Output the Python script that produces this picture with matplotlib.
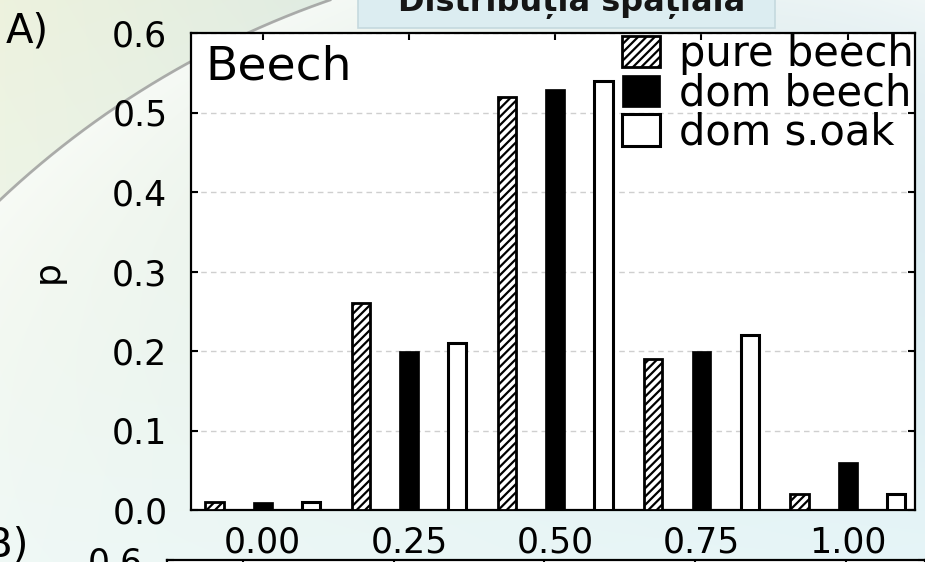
import numpy as np
import matplotlib
matplotlib.use('Agg')
import matplotlib.pyplot as plt
from matplotlib.patches import Rectangle

# ---- data ----
categories = ['0.00', '0.25', '0.50', '0.75', '1.00']
series_names = ['pure beech', 'dom beech', 'dom s.oak']
pure_beech = [0.01, 0.26, 0.52, 0.19, 0.02]
dom_beech = [0.01, 0.20, 0.53, 0.20, 0.06]
dom_soak = [0.01, 0.21, 0.54, 0.22, 0.02]
y_ticks = [0.0, 0.1, 0.2, 0.3, 0.4, 0.5, 0.6]
title_text = 'Distribuția spațială'
panel_text = 'Beech'

plt.rcParams['font.family'] = ['DejaVu Sans']
plt.rcParams['hatch.linewidth'] = 1.6

W, H = 925, 562
fig = plt.figure(figsize=(W / 100, H / 100), dpi=100)

def fx(px):
    return px / W

def fy(py):
    return 1 - py / H

# ---- background (slide) ----
bg = fig.add_axes([0, 0, 1, 1], zorder=-10)
yy, xx = np.mgrid[0:H, 0:W].astype(float)
t = xx / W
s = yy / H
c_tl = np.array([0.93, 0.95, 0.87])
c_tr = np.array([0.79, 0.88, 0.92])
c_bl = np.array([0.93, 0.97, 0.96])
c_br = np.array([0.90, 0.96, 0.97])
img = ((1 - t)[..., None] * (1 - s)[..., None] * c_tl + t[..., None] * (1 - s)[..., None] * c_tr
       + (1 - t)[..., None] * s[..., None] * c_bl + t[..., None] * s[..., None] * c_br)
p1, p2, p3 = np.array([0, 200.]), np.array([190, 62.]), np.array([330, 0.])
A = np.array([[2 * (p2 - p1)[0], 2 * (p2 - p1)[1]], [2 * (p3 - p1)[0], 2 * (p3 - p1)[1]]])
b = np.array([p2 @ p2 - p1 @ p1, p3 @ p3 - p1 @ p1])
cx, cy = np.linalg.solve(A, b)
r = np.hypot(*(p1 - np.array([cx, cy])))
d = r - np.hypot(xx - cx, yy - cy)
w = np.clip(np.exp(-np.clip(d, 0, None) / 160.0), 0, 1) * (d > 0) * 0.8
img = img * (1 - w[..., None]) + w[..., None] * np.array([0.98, 0.99, 0.98])
bg.imshow(img, extent=[0, W, H, 0], aspect='auto', interpolation='bilinear')
ang = np.linspace(np.arctan2(p1[1] - cy, p1[0] - cx), np.arctan2(p3[1] - cy, p3[0] - cx), 200)
bg.plot(cx + r * np.cos(ang), cy + r * np.sin(ang), color='#9a9a9a', lw=2.0, alpha=0.8)
bg.add_patch(Rectangle((358, -10), 417, 38, facecolor='#dcedf1', edgecolor='#c5d9de', lw=1.2))
bg.set_xlim(0, W)
bg.set_ylim(H, 0)
bg.axis('off')

fig.text(fx(572), fy(11), title_text, ha='center', va='baseline', fontsize=23,
         fontweight='bold', color='#151515')

# ---- panel A ----
L, R, T, B = 191, 915, 33, 510
ax = fig.add_axes([fx(L), fy(B), (R - L) / W, (B - T) / H])
x = np.arange(len(categories))
off = 0.33
bw = 0.125
ax.bar(x - off, pure_beech, width=bw, color='white', edgecolor='black', hatch='////',
       lw=2.0, label=series_names[0], zorder=3)
ax.bar(x, dom_beech, width=0.135, color='black', edgecolor='black', lw=0.5,
       label=series_names[1], zorder=3)
ax.bar(x + off, dom_soak, width=bw, color='white', edgecolor='black', lw=2.2,
       label=series_names[2], zorder=3)

ax.set_xlim(-0.49, 4.46)
ax.set_ylim(0, 0.6)
ax.set_xticks(x)
ax.set_xticklabels(categories)
ax.set_yticks(y_ticks)
ax.set_yticklabels([f'{v:.1f}' for v in y_ticks])
ax.yaxis.grid(True, ls=(0, (4, 3)), color='#cfcfcf', lw=1.0)
ax.set_axisbelow(True)
for sp in ax.spines.values():
    sp.set_linewidth(1.6)
    sp.set_color('black')
ax.tick_params(axis='both', direction='in', length=5, width=1.5, top=True, right=True,
               labelsize=25, colors='black')
ax.tick_params(axis='y', pad=17)
ax.tick_params(axis='x', pad=11)
ax.set_ylabel('p', fontsize=26)
ax.yaxis.set_label_coords(-0.174, 0.5)
ax.text((205 - L) / (R - L), (B - 79) / (B - T), panel_text, transform=ax.transAxes,
        fontsize=34, va='baseline', ha='left')
leg = ax.legend(loc='upper left', bbox_to_anchor=(fx(622), fy(33)),
                bbox_transform=fig.transFigure, frameon=False, fontsize=30,
                handlelength=0.91, handleheight=0.8, handletextpad=0.45,
                labelspacing=-0.07, borderpad=0, borderaxespad=0)
leg.set_zorder(10)

fig.text(fx(6), fy(42), 'A)', fontsize=29, ha='left', va='baseline')

# ---- panel B (cut off at the bottom) ----
LB, TB = 167, 560
gap = 150.7
axb = fig.add_axes([fx(LB), fy(TB) - 0.85, (925 - LB) / W, 0.85])
axb.set_xlim(-(243 - LB) / gap, 4 + (925 - 846) / gap)
axb.set_ylim(0, 0.6)
axb.set_xticks(x)
axb.set_xticklabels([])
axb.set_yticks([y_ticks[-1]])
axb.set_yticklabels([f'{y_ticks[-1]:.1f}'])
for sp in axb.spines.values():
    sp.set_linewidth(1.6)
axb.tick_params(axis='both', direction='in', length=5, width=1.5, top=True, right=True,
                labelsize=25)
axb.tick_params(axis='y', pad=17)
fig.text(fx(28), fy(556), 'B)', fontsize=29, ha='right', va='baseline')

fig.savefig('out.png', dpi=100)
